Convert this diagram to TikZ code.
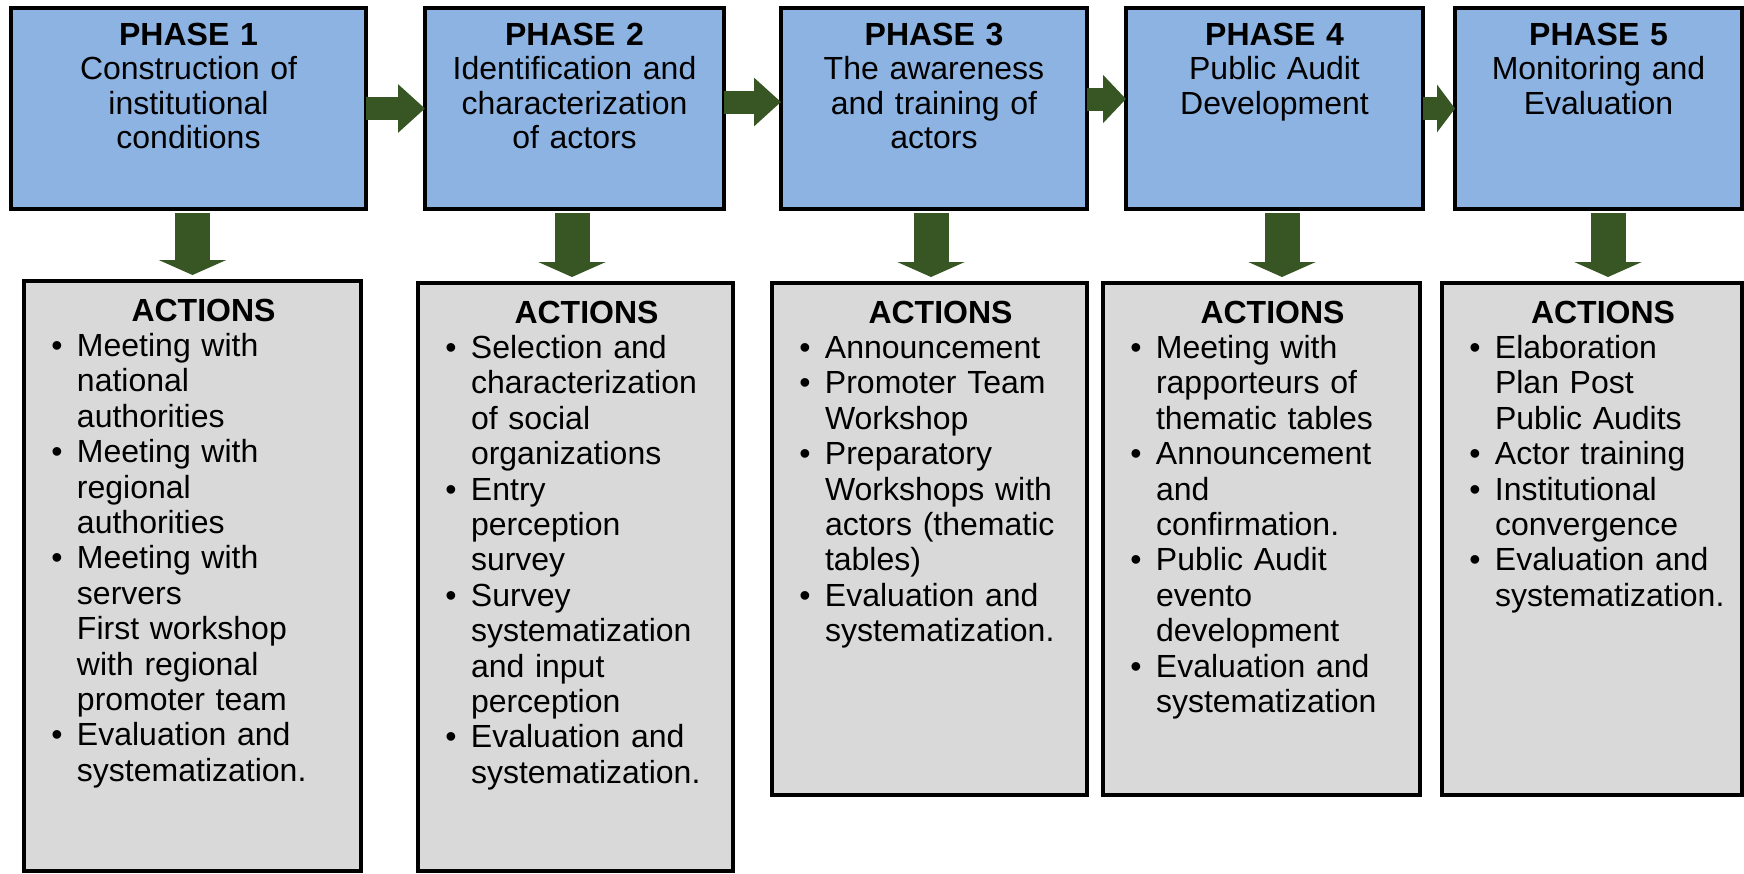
\documentclass[tikz,border=0pt]{standalone}
\usepackage{fontspec}
\setmainfont{Liberation Sans}
\usetikzlibrary{positioning,arrows.meta}
\usepackage{xcolor}
\definecolor{phaseblue}{RGB}{141,179,226}
\definecolor{actiongray}{RGB}{217,217,217}
\definecolor{arrowgreen}{RGB}{55,86,35}

\hyphenpenalty=10000
\exhyphenpenalty=10000

% heading and bullet entries of an ACTIONS box
\newcommand{\acthead}{{\centering\hspace*{11pt}\textbf{ACTIONS}\par}}
\newcommand{\act}[1]{\par{\let\\\newline\hangindent=20.5pt\hangafter=1\noindent
  \makebox[20.5pt][l]{\hspace*{7.7pt}\textbullet}#1\par}}

\begin{document}
\begin{tikzpicture}[
    phase/.style={rectangle, draw=black, fill=phaseblue, line width=1.6pt,
                  inner sep=0pt, outer sep=0pt, align=center, text width=#1,
                  text height=18.5pt, text depth=82pt,
                  font=\fontsize{16pt}{17.3pt}\selectfont},
    actions/.style={rectangle, draw=black, fill=actiongray, line width=1.6pt,
                  inner xsep=6pt, inner ysep=0pt, outer sep=0pt, align=left,
                  text width=#1, text height=20pt,
                  font=\fontsize{16pt}{17.7pt}\selectfont},
    rightarrow/.style={draw=arrowgreen, line width=11.5pt,
                  -{Triangle[length=#1, width=23.5pt]}},
    rightarrow/.default=13.5pt,
    downarrow/.style={draw=arrowgreen, line width=17.5pt,
                  -{Triangle[length=7.5pt, width=33.5pt]},
                  shorten <=2pt, shorten >=3pt}
]
\useasboundingbox (0,0) rectangle (872pt,-436.5pt);
\clip (0,0) rectangle (872pt,-436.5pt);

% phases
\node[phase=177.5pt, anchor=north west] (p1) at (5.5pt,-4pt)
    {\textbf{PHASE 1}\\Construction of\\institutional\\conditions};
\node[phase=149.5pt, right=29.5pt of p1] (p2)
    {\textbf{PHASE 2}\\Identification and\\characterization\\of actors};
\node[phase=153pt, right=28.5pt of p2] (p3)
    {\textbf{PHASE 3}\\The awareness\\and training of\\actors};
\node[phase=148.5pt, right=19.5pt of p3] (p4)
    {\textbf{PHASE 4}\\Public Audit\\Development};
\node[phase=143.5pt, right=16pt of p4] (p5)
    {\textbf{PHASE 5}\\Monitoring and\\Evaluation};

% actions under each phase
\node[actions=156.5pt, text depth=275pt, below=36pt of p1, xshift=2pt] (a1) {\acthead
    \act{Meeting with\\national\\authorities}
    \act{Meeting with\\regional\\authorities}
    \act{Meeting with\\servers\\First workshop\\with regional\\promoter team}
    \act{Evaluation and\\systematization.}};
\node[actions=145.5pt, text depth=274pt, below=37pt of p2, xshift=0.5pt] (a2) {\acthead
    \act{Selection and\\characterization\\of social\\organizations}
    \act{Entry\\perception\\survey}
    \act{Survey\\systematization\\and input\\perception}
    \act{Evaluation and\\systematization.}};
\node[actions=145.5pt, text depth=236pt, below=37pt of p3, xshift=-2.25pt] (a3) {\acthead
    \act{Announcement}
    \act{Promoter Team\\Workshop}
    \act{Preparatory\\Workshops with\\actors (thematic\\tables)}
    \act{Evaluation and\\systematization.}};
\node[actions=146.5pt, text depth=236pt, below=37pt of p4, xshift=-6.5pt] (a4) {\acthead
    \act{Meeting with\\rapporteurs of\\thematic tables}
    \act{Announcement\\and\\confirmation.}
    \act{Public Audit\\evento\\development}
    \act{Evaluation and\\systematization}};
\node[actions=138pt, text depth=236pt, below=37pt of p5, xshift=-3.25pt] (a5) {\acthead
    \act{Elaboration\\Plan Post\\Public Audits}
    \act{Actor training}
    \act{Institutional\\convergence}
    \act{Evaluation and\\systematization.}};

% phase to phase
\draw[rightarrow] (p1) -- (p2);
\draw[rightarrow] ([yshift=3.25pt]p2.east) -- ([yshift=3.25pt]p3.west);
\draw[rightarrow=11.5pt] ([yshift=4.75pt]p3.east) -- ([yshift=4.75pt]p4.west);
\draw[rightarrow=9pt] (p4) -- (p5);

% phase to its actions
\draw[downarrow] (a1.north |- p1.south) -- (a1.north);
\draw[downarrow] ([xshift=-1.75pt]a2.north |- p2.south) -- ([xshift=-1.75pt]a2.north);
\draw[downarrow] ([xshift=0.75pt]a3.north |- p3.south) -- ([xshift=0.75pt]a3.north);
\draw[downarrow] ([xshift=10.25pt]a4.north |- p4.south) -- ([xshift=10.25pt]a4.north);
\draw[downarrow] ([xshift=8pt]a5.north |- p5.south) -- ([xshift=8pt]a5.north);

\end{tikzpicture}
\end{document}
